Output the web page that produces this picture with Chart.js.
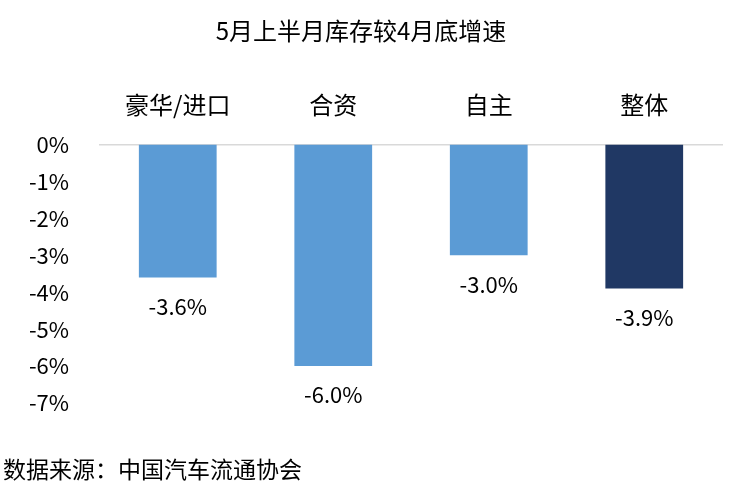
<!DOCTYPE html>
<html>
<head>
<meta charset="utf-8">
<script src="https://cdn.jsdelivr.net/npm/chart.js@4"></script>
<style>
  html, body { margin: 0; padding: 0; background: #fff; }
  #wrap { width: 738px; height: 484px; position: relative; }
</style>
</head>
<body>
<div id="wrap"><canvas id="myChart"></canvas></div>
<script>
// 分类与数值
const categories = ['豪华/进口', '合资', '自主', '整体'];
const growthValues = [-3.6, -6.0, -3.0, -3.9];
const valueLabels = ['-3.6%', '-6.0%', '-3.0%', '-3.9%'];
const barColors = ['#5B9BD5', '#5B9BD5', '#5B9BD5', '#203864'];

const chartTitle = '5月上半月库存较4月底增速';
const sourceNote = '数据来源：中国汽车流通协会';
const FONT = '"Noto Sans CJK SC", "Microsoft YaHei", sans-serif';

// 柱子下方的数值标签
const barLabels = {
    id: 'barLabels',
    afterDatasetsDraw(chart) {
        const ctx = chart.ctx;
        const meta = chart.getDatasetMeta(0);
        ctx.save();
        ctx.font = '22px ' + FONT;
        ctx.fillStyle = '#000';
        ctx.textAlign = 'center';
        ctx.textBaseline = 'middle';
        meta.data.forEach((bar, i) => {
            ctx.fillText(valueLabels[i], bar.x, bar.y + 29);
        });
        ctx.restore();
    }
};

// 数据来源
const sourceText = {
    id: 'sourceText',
    afterDraw(chart) {
        const ctx = chart.ctx;
        ctx.save();
        ctx.font = '23px ' + FONT;
        ctx.fillStyle = '#000';
        ctx.textAlign = 'left';
        ctx.textBaseline = 'middle';
        ctx.fillText(sourceNote, 3, 469);
        ctx.restore();
    }
};

const config = {
    type: 'bar',
    data: {
        labels: categories,
        datasets: [{
            data: growthValues,
            backgroundColor: barColors,
            borderWidth: 0,
            categoryPercentage: 1,
            barPercentage: 0.5
        }]
    },
    options: {
        responsive: false,
        animation: false,
        layout: {
            padding: { top: 8, left: 0, right: 16, bottom: 81 }
        },
        plugins: {
            legend: { display: false },
            tooltip: { enabled: false },
            title: {
                display: true,
                text: chartTitle,
                color: '#000',
                font: { family: FONT, size: 24, weight: 'normal' },
                padding: { top: 8, bottom: 29 }
            }
        },
        scales: {
            x: {
                position: 'top',
                grid: { display: false },
                border: { display: true, color: '#D9D9D9', width: 1.5 },
                ticks: {
                    color: '#000',
                    padding: 17,
                    font: { family: FONT, size: 24 }
                }
            },
            y: {
                min: -7,
                max: 0,
                grid: { display: false },
                border: { display: false },
                ticks: {
                    stepSize: 1,
                    color: '#000',
                    padding: 23,
                    font: { family: FONT, size: 22 },
                    callback: v => v + '%'
                },
                afterFit: s => { s.width = 100; }
            }
        }
    },
    plugins: [barLabels, sourceText]
};

const canvas = document.getElementById('myChart');
canvas.width = 738;
canvas.height = 484;
new Chart(canvas, config);
</script>
</body>
</html>
